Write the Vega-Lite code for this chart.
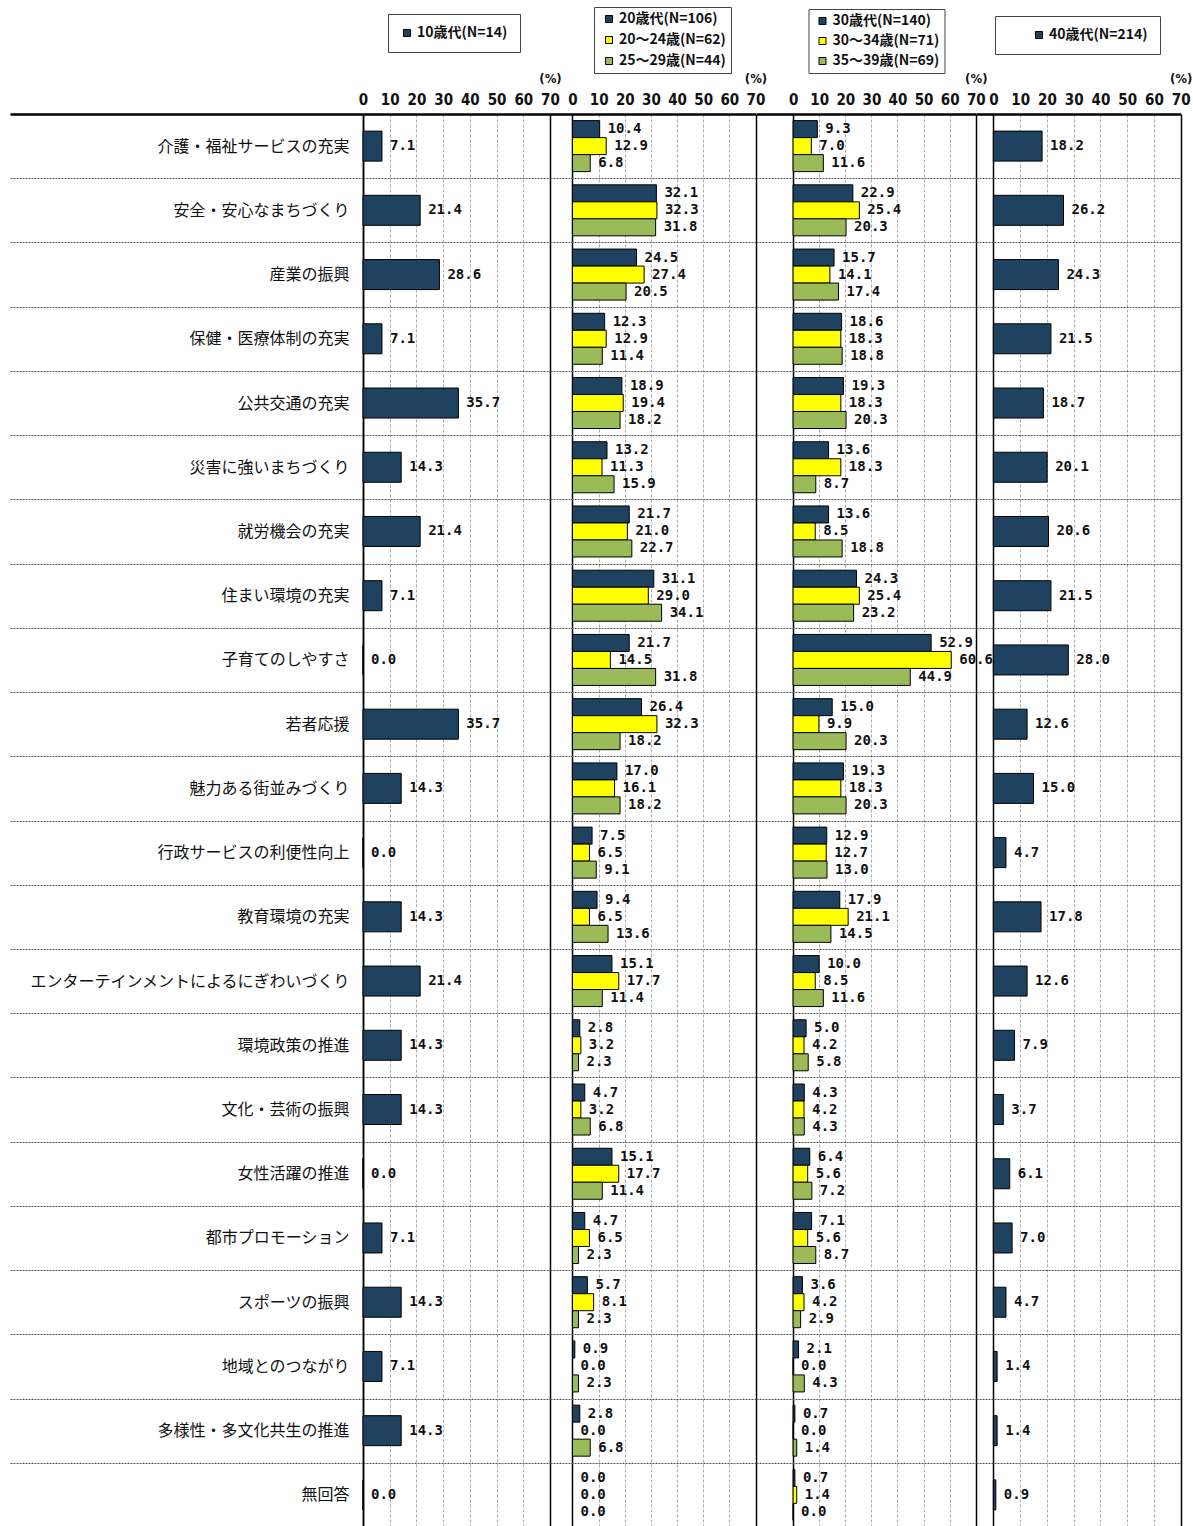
{
  "$schema": "https://vega.github.io/schema/vega-lite/v6.json",
  "padding": {"top": 6, "left": 8, "right": 5, "bottom": 0},
  "bounds": "flush",
  "spacing": 0,
  "config": {"view": {"stroke": null}},
  "datasets": {
    "p1": [
      {"item": "介護・福祉サービスの充実", "group": "10歳代(N=14)", "value": 7.1},
      {"item": "安全・安心なまちづくり", "group": "10歳代(N=14)", "value": 21.4},
      {"item": "産業の振興", "group": "10歳代(N=14)", "value": 28.6},
      {"item": "保健・医療体制の充実", "group": "10歳代(N=14)", "value": 7.1},
      {"item": "公共交通の充実", "group": "10歳代(N=14)", "value": 35.7},
      {"item": "災害に強いまちづくり", "group": "10歳代(N=14)", "value": 14.3},
      {"item": "就労機会の充実", "group": "10歳代(N=14)", "value": 21.4},
      {"item": "住まい環境の充実", "group": "10歳代(N=14)", "value": 7.1},
      {"item": "子育てのしやすさ", "group": "10歳代(N=14)", "value": 0.0},
      {"item": "若者応援", "group": "10歳代(N=14)", "value": 35.7},
      {"item": "魅力ある街並みづくり", "group": "10歳代(N=14)", "value": 14.3},
      {"item": "行政サービスの利便性向上", "group": "10歳代(N=14)", "value": 0.0},
      {"item": "教育環境の充実", "group": "10歳代(N=14)", "value": 14.3},
      {"item": "エンターテインメントによるにぎわいづくり", "group": "10歳代(N=14)", "value": 21.4},
      {"item": "環境政策の推進", "group": "10歳代(N=14)", "value": 14.3},
      {"item": "文化・芸術の振興", "group": "10歳代(N=14)", "value": 14.3},
      {"item": "女性活躍の推進", "group": "10歳代(N=14)", "value": 0.0},
      {"item": "都市プロモーション", "group": "10歳代(N=14)", "value": 7.1},
      {"item": "スポーツの振興", "group": "10歳代(N=14)", "value": 14.3},
      {"item": "地域とのつながり", "group": "10歳代(N=14)", "value": 7.1},
      {"item": "多様性・多文化共生の推進", "group": "10歳代(N=14)", "value": 14.3},
      {"item": "無回答", "group": "10歳代(N=14)", "value": 0.0}
    ],
    "p2": [
      {"item": "介護・福祉サービスの充実", "group": "20歳代(N=106)", "value": 10.4},
      {"item": "介護・福祉サービスの充実", "group": "20～24歳(N=62)", "value": 12.9},
      {"item": "介護・福祉サービスの充実", "group": "25～29歳(N=44)", "value": 6.8},
      {"item": "安全・安心なまちづくり", "group": "20歳代(N=106)", "value": 32.1},
      {"item": "安全・安心なまちづくり", "group": "20～24歳(N=62)", "value": 32.3},
      {"item": "安全・安心なまちづくり", "group": "25～29歳(N=44)", "value": 31.8},
      {"item": "産業の振興", "group": "20歳代(N=106)", "value": 24.5},
      {"item": "産業の振興", "group": "20～24歳(N=62)", "value": 27.4},
      {"item": "産業の振興", "group": "25～29歳(N=44)", "value": 20.5},
      {"item": "保健・医療体制の充実", "group": "20歳代(N=106)", "value": 12.3},
      {"item": "保健・医療体制の充実", "group": "20～24歳(N=62)", "value": 12.9},
      {"item": "保健・医療体制の充実", "group": "25～29歳(N=44)", "value": 11.4},
      {"item": "公共交通の充実", "group": "20歳代(N=106)", "value": 18.9},
      {"item": "公共交通の充実", "group": "20～24歳(N=62)", "value": 19.4},
      {"item": "公共交通の充実", "group": "25～29歳(N=44)", "value": 18.2},
      {"item": "災害に強いまちづくり", "group": "20歳代(N=106)", "value": 13.2},
      {"item": "災害に強いまちづくり", "group": "20～24歳(N=62)", "value": 11.3},
      {"item": "災害に強いまちづくり", "group": "25～29歳(N=44)", "value": 15.9},
      {"item": "就労機会の充実", "group": "20歳代(N=106)", "value": 21.7},
      {"item": "就労機会の充実", "group": "20～24歳(N=62)", "value": 21.0},
      {"item": "就労機会の充実", "group": "25～29歳(N=44)", "value": 22.7},
      {"item": "住まい環境の充実", "group": "20歳代(N=106)", "value": 31.1},
      {"item": "住まい環境の充実", "group": "20～24歳(N=62)", "value": 29.0},
      {"item": "住まい環境の充実", "group": "25～29歳(N=44)", "value": 34.1},
      {"item": "子育てのしやすさ", "group": "20歳代(N=106)", "value": 21.7},
      {"item": "子育てのしやすさ", "group": "20～24歳(N=62)", "value": 14.5},
      {"item": "子育てのしやすさ", "group": "25～29歳(N=44)", "value": 31.8},
      {"item": "若者応援", "group": "20歳代(N=106)", "value": 26.4},
      {"item": "若者応援", "group": "20～24歳(N=62)", "value": 32.3},
      {"item": "若者応援", "group": "25～29歳(N=44)", "value": 18.2},
      {"item": "魅力ある街並みづくり", "group": "20歳代(N=106)", "value": 17.0},
      {"item": "魅力ある街並みづくり", "group": "20～24歳(N=62)", "value": 16.1},
      {"item": "魅力ある街並みづくり", "group": "25～29歳(N=44)", "value": 18.2},
      {"item": "行政サービスの利便性向上", "group": "20歳代(N=106)", "value": 7.5},
      {"item": "行政サービスの利便性向上", "group": "20～24歳(N=62)", "value": 6.5},
      {"item": "行政サービスの利便性向上", "group": "25～29歳(N=44)", "value": 9.1},
      {"item": "教育環境の充実", "group": "20歳代(N=106)", "value": 9.4},
      {"item": "教育環境の充実", "group": "20～24歳(N=62)", "value": 6.5},
      {"item": "教育環境の充実", "group": "25～29歳(N=44)", "value": 13.6},
      {"item": "エンターテインメントによるにぎわいづくり", "group": "20歳代(N=106)", "value": 15.1},
      {"item": "エンターテインメントによるにぎわいづくり", "group": "20～24歳(N=62)", "value": 17.7},
      {"item": "エンターテインメントによるにぎわいづくり", "group": "25～29歳(N=44)", "value": 11.4},
      {"item": "環境政策の推進", "group": "20歳代(N=106)", "value": 2.8},
      {"item": "環境政策の推進", "group": "20～24歳(N=62)", "value": 3.2},
      {"item": "環境政策の推進", "group": "25～29歳(N=44)", "value": 2.3},
      {"item": "文化・芸術の振興", "group": "20歳代(N=106)", "value": 4.7},
      {"item": "文化・芸術の振興", "group": "20～24歳(N=62)", "value": 3.2},
      {"item": "文化・芸術の振興", "group": "25～29歳(N=44)", "value": 6.8},
      {"item": "女性活躍の推進", "group": "20歳代(N=106)", "value": 15.1},
      {"item": "女性活躍の推進", "group": "20～24歳(N=62)", "value": 17.7},
      {"item": "女性活躍の推進", "group": "25～29歳(N=44)", "value": 11.4},
      {"item": "都市プロモーション", "group": "20歳代(N=106)", "value": 4.7},
      {"item": "都市プロモーション", "group": "20～24歳(N=62)", "value": 6.5},
      {"item": "都市プロモーション", "group": "25～29歳(N=44)", "value": 2.3},
      {"item": "スポーツの振興", "group": "20歳代(N=106)", "value": 5.7},
      {"item": "スポーツの振興", "group": "20～24歳(N=62)", "value": 8.1},
      {"item": "スポーツの振興", "group": "25～29歳(N=44)", "value": 2.3},
      {"item": "地域とのつながり", "group": "20歳代(N=106)", "value": 0.9},
      {"item": "地域とのつながり", "group": "20～24歳(N=62)", "value": 0.0},
      {"item": "地域とのつながり", "group": "25～29歳(N=44)", "value": 2.3},
      {"item": "多様性・多文化共生の推進", "group": "20歳代(N=106)", "value": 2.8},
      {"item": "多様性・多文化共生の推進", "group": "20～24歳(N=62)", "value": 0.0},
      {"item": "多様性・多文化共生の推進", "group": "25～29歳(N=44)", "value": 6.8},
      {"item": "無回答", "group": "20歳代(N=106)", "value": 0.0},
      {"item": "無回答", "group": "20～24歳(N=62)", "value": 0.0},
      {"item": "無回答", "group": "25～29歳(N=44)", "value": 0.0}
    ],
    "p3": [
      {"item": "介護・福祉サービスの充実", "group": "30歳代(N=140)", "value": 9.3},
      {"item": "介護・福祉サービスの充実", "group": "30～34歳(N=71)", "value": 7.0},
      {"item": "介護・福祉サービスの充実", "group": "35～39歳(N=69)", "value": 11.6},
      {"item": "安全・安心なまちづくり", "group": "30歳代(N=140)", "value": 22.9},
      {"item": "安全・安心なまちづくり", "group": "30～34歳(N=71)", "value": 25.4},
      {"item": "安全・安心なまちづくり", "group": "35～39歳(N=69)", "value": 20.3},
      {"item": "産業の振興", "group": "30歳代(N=140)", "value": 15.7},
      {"item": "産業の振興", "group": "30～34歳(N=71)", "value": 14.1},
      {"item": "産業の振興", "group": "35～39歳(N=69)", "value": 17.4},
      {"item": "保健・医療体制の充実", "group": "30歳代(N=140)", "value": 18.6},
      {"item": "保健・医療体制の充実", "group": "30～34歳(N=71)", "value": 18.3},
      {"item": "保健・医療体制の充実", "group": "35～39歳(N=69)", "value": 18.8},
      {"item": "公共交通の充実", "group": "30歳代(N=140)", "value": 19.3},
      {"item": "公共交通の充実", "group": "30～34歳(N=71)", "value": 18.3},
      {"item": "公共交通の充実", "group": "35～39歳(N=69)", "value": 20.3},
      {"item": "災害に強いまちづくり", "group": "30歳代(N=140)", "value": 13.6},
      {"item": "災害に強いまちづくり", "group": "30～34歳(N=71)", "value": 18.3},
      {"item": "災害に強いまちづくり", "group": "35～39歳(N=69)", "value": 8.7},
      {"item": "就労機会の充実", "group": "30歳代(N=140)", "value": 13.6},
      {"item": "就労機会の充実", "group": "30～34歳(N=71)", "value": 8.5},
      {"item": "就労機会の充実", "group": "35～39歳(N=69)", "value": 18.8},
      {"item": "住まい環境の充実", "group": "30歳代(N=140)", "value": 24.3},
      {"item": "住まい環境の充実", "group": "30～34歳(N=71)", "value": 25.4},
      {"item": "住まい環境の充実", "group": "35～39歳(N=69)", "value": 23.2},
      {"item": "子育てのしやすさ", "group": "30歳代(N=140)", "value": 52.9},
      {"item": "子育てのしやすさ", "group": "30～34歳(N=71)", "value": 60.6},
      {"item": "子育てのしやすさ", "group": "35～39歳(N=69)", "value": 44.9},
      {"item": "若者応援", "group": "30歳代(N=140)", "value": 15.0},
      {"item": "若者応援", "group": "30～34歳(N=71)", "value": 9.9},
      {"item": "若者応援", "group": "35～39歳(N=69)", "value": 20.3},
      {"item": "魅力ある街並みづくり", "group": "30歳代(N=140)", "value": 19.3},
      {"item": "魅力ある街並みづくり", "group": "30～34歳(N=71)", "value": 18.3},
      {"item": "魅力ある街並みづくり", "group": "35～39歳(N=69)", "value": 20.3},
      {"item": "行政サービスの利便性向上", "group": "30歳代(N=140)", "value": 12.9},
      {"item": "行政サービスの利便性向上", "group": "30～34歳(N=71)", "value": 12.7},
      {"item": "行政サービスの利便性向上", "group": "35～39歳(N=69)", "value": 13.0},
      {"item": "教育環境の充実", "group": "30歳代(N=140)", "value": 17.9},
      {"item": "教育環境の充実", "group": "30～34歳(N=71)", "value": 21.1},
      {"item": "教育環境の充実", "group": "35～39歳(N=69)", "value": 14.5},
      {"item": "エンターテインメントによるにぎわいづくり", "group": "30歳代(N=140)", "value": 10.0},
      {"item": "エンターテインメントによるにぎわいづくり", "group": "30～34歳(N=71)", "value": 8.5},
      {"item": "エンターテインメントによるにぎわいづくり", "group": "35～39歳(N=69)", "value": 11.6},
      {"item": "環境政策の推進", "group": "30歳代(N=140)", "value": 5.0},
      {"item": "環境政策の推進", "group": "30～34歳(N=71)", "value": 4.2},
      {"item": "環境政策の推進", "group": "35～39歳(N=69)", "value": 5.8},
      {"item": "文化・芸術の振興", "group": "30歳代(N=140)", "value": 4.3},
      {"item": "文化・芸術の振興", "group": "30～34歳(N=71)", "value": 4.2},
      {"item": "文化・芸術の振興", "group": "35～39歳(N=69)", "value": 4.3},
      {"item": "女性活躍の推進", "group": "30歳代(N=140)", "value": 6.4},
      {"item": "女性活躍の推進", "group": "30～34歳(N=71)", "value": 5.6},
      {"item": "女性活躍の推進", "group": "35～39歳(N=69)", "value": 7.2},
      {"item": "都市プロモーション", "group": "30歳代(N=140)", "value": 7.1},
      {"item": "都市プロモーション", "group": "30～34歳(N=71)", "value": 5.6},
      {"item": "都市プロモーション", "group": "35～39歳(N=69)", "value": 8.7},
      {"item": "スポーツの振興", "group": "30歳代(N=140)", "value": 3.6},
      {"item": "スポーツの振興", "group": "30～34歳(N=71)", "value": 4.2},
      {"item": "スポーツの振興", "group": "35～39歳(N=69)", "value": 2.9},
      {"item": "地域とのつながり", "group": "30歳代(N=140)", "value": 2.1},
      {"item": "地域とのつながり", "group": "30～34歳(N=71)", "value": 0.0},
      {"item": "地域とのつながり", "group": "35～39歳(N=69)", "value": 4.3},
      {"item": "多様性・多文化共生の推進", "group": "30歳代(N=140)", "value": 0.7},
      {"item": "多様性・多文化共生の推進", "group": "30～34歳(N=71)", "value": 0.0},
      {"item": "多様性・多文化共生の推進", "group": "35～39歳(N=69)", "value": 1.4},
      {"item": "無回答", "group": "30歳代(N=140)", "value": 0.7},
      {"item": "無回答", "group": "30～34歳(N=71)", "value": 1.4},
      {"item": "無回答", "group": "35～39歳(N=69)", "value": 0.0}
    ],
    "p4": [
      {"item": "介護・福祉サービスの充実", "group": "40歳代(N=214)", "value": 18.2},
      {"item": "安全・安心なまちづくり", "group": "40歳代(N=214)", "value": 26.2},
      {"item": "産業の振興", "group": "40歳代(N=214)", "value": 24.3},
      {"item": "保健・医療体制の充実", "group": "40歳代(N=214)", "value": 21.5},
      {"item": "公共交通の充実", "group": "40歳代(N=214)", "value": 18.7},
      {"item": "災害に強いまちづくり", "group": "40歳代(N=214)", "value": 20.1},
      {"item": "就労機会の充実", "group": "40歳代(N=214)", "value": 20.6},
      {"item": "住まい環境の充実", "group": "40歳代(N=214)", "value": 21.5},
      {"item": "子育てのしやすさ", "group": "40歳代(N=214)", "value": 28.0},
      {"item": "若者応援", "group": "40歳代(N=214)", "value": 12.6},
      {"item": "魅力ある街並みづくり", "group": "40歳代(N=214)", "value": 15.0},
      {"item": "行政サービスの利便性向上", "group": "40歳代(N=214)", "value": 4.7},
      {"item": "教育環境の充実", "group": "40歳代(N=214)", "value": 17.8},
      {"item": "エンターテインメントによるにぎわいづくり", "group": "40歳代(N=214)", "value": 12.6},
      {"item": "環境政策の推進", "group": "40歳代(N=214)", "value": 7.9},
      {"item": "文化・芸術の振興", "group": "40歳代(N=214)", "value": 3.7},
      {"item": "女性活躍の推進", "group": "40歳代(N=214)", "value": 6.1},
      {"item": "都市プロモーション", "group": "40歳代(N=214)", "value": 7.0},
      {"item": "スポーツの振興", "group": "40歳代(N=214)", "value": 4.7},
      {"item": "地域とのつながり", "group": "40歳代(N=214)", "value": 1.4},
      {"item": "多様性・多文化共生の推進", "group": "40歳代(N=214)", "value": 1.4},
      {"item": "無回答", "group": "40歳代(N=214)", "value": 0.9}
    ]
  },
  "hconcat": [
    {
      "width": 187,
      "height": 1413,
      "data": {"name": "p1"},
      "encoding": {
        "y": {
          "field": "item", "type": "nominal", "sort": null,
          "scale": {"padding": 0},
          "axis": {
            "title": null, "tickBand": "extent", "tickSize": 353,
            "tickColor": {"condition": {"test": "datum.value == null || datum.index < 0", "value": "#000"}, "value": "#555"},
            "tickDash": {"condition": {"test": "datum.value == null || datum.index < 0", "value": []}, "value": [2, 1]},
            "tickWidth": {"condition": {"test": "datum.value == null || datum.index < 0", "value": 2.5}, "value": 1},
            "labelPadding": -339, "labelLimit": 400,
            "labelFont": "Noto Sans CJK JP", "labelFontSize": 16, "labelColor": "#111",
            "domain": true, "domainColor": "#000", "domainWidth": 1.5,
            "grid": true, "gridColor": "#555", "gridDash": [2, 1]
          }
        },
        "x": {
          "field": "value", "type": "quantitative",
          "scale": {"domain": [0, 70], "nice": false},
          "axis": {
            "orient": "top", "values": [0, 10, 20, 30, 40, 50, 60, 70],
            "title": "(%)", "titleAnchor": "end", "titleAlign": "center", "titleAngle": 0, "titlePadding": 7,
            "titleFont": "DejaVu Sans Condensed", "titleFontSize": 13, "titleFontWeight": "bold", "titleColor": "#111",
            "labelFont": "Liberation Sans Narrow, DejaVu Sans Condensed, sans-serif", "labelFontSize": 15, "labelFontWeight": "bold", "labelColor": "#111",
            "labelPadding": 7, "labelFlush": false, "labelOverlap": false,
            "ticks": false, "domain": true, "domainColor": "#000", "domainWidth": 2.5,
            "grid": true,
            "gridColor": {"condition": {"test": "datum.value === 0 || datum.value === 70", "value": "#000"}, "value": "#aaa"},
            "gridDash": {"condition": {"test": "datum.value === 0 || datum.value === 70", "value": []}, "value": [3, 2]},
            "gridWidth": {"condition": {"test": "datum.value === 0 || datum.value === 70", "value": 1.5}, "value": 1}
          }
        }
      },
      "layer": [
        {
          "mark": {"type": "bar", "size": 30, "stroke": "#000", "strokeWidth": 1},
          "encoding": {
            "color": {
              "field": "group", "type": "nominal",
              "scale": {"domain": ["10歳代(N=14)"], "range": ["#1f4260"]},
              "legend": {
                "orient": "none", "legendX": 25, "legendY": -100, "title": null,
                "fillColor": "#fff", "strokeColor": "#444", "padding": 12,
                "symbolType": "square", "symbolSize": 49, "symbolStrokeColor": "#000", "symbolStrokeWidth": 1, "symbolOffset": 0,
                "labelFont": "Noto Sans CJK JP", "labelFontSize": 14, "labelFontWeight": "bold", "labelOffset": 3, "labelColor": "#111"
              }
            }
          }
        },
        {
          "mark": {"type": "text", "align": "left", "baseline": "middle", "dx": 8, "font": "DejaVu Sans Mono", "fontSize": 14, "fontWeight": "bold", "color": "#111"},
          "encoding": {"text": {"field": "value", "type": "quantitative", "format": ".1f"}}
        }
      ]
    },
    {
      "width": 205.5,
      "height": 1413,
      "data": {"name": "p2"},
      "encoding": {
        "y": {
          "field": "item", "type": "nominal", "sort": null,
          "scale": {"padding": 0},
          "axis": {"title": null, "labels": false, "ticks": false, "domain": false, "grid": true, "tickBand": "extent", "gridColor": "#555", "gridDash": [2, 1]}
        },
        "x": {
          "field": "value", "type": "quantitative",
          "scale": {"domain": [-8.6, 70], "nice": false, "zero": false},
          "axis": {
            "orient": "top", "values": [0, 10, 20, 30, 40, 50, 60, 70],
            "title": "(%)", "titleAnchor": "end", "titleAlign": "center", "titleAngle": 0, "titlePadding": 7,
            "titleFont": "DejaVu Sans Condensed", "titleFontSize": 13, "titleFontWeight": "bold", "titleColor": "#111",
            "labelFont": "Liberation Sans Narrow, DejaVu Sans Condensed, sans-serif", "labelFontSize": 15, "labelFontWeight": "bold", "labelColor": "#111",
            "labelPadding": 7, "labelFlush": false, "labelOverlap": false,
            "ticks": false, "domain": true, "domainColor": "#000", "domainWidth": 2.5,
            "grid": true,
            "gridColor": {"condition": {"test": "datum.value === 0 || datum.value === 70", "value": "#000"}, "value": "#aaa"},
            "gridDash": {"condition": {"test": "datum.value === 0 || datum.value === 70", "value": []}, "value": [3, 2]},
            "gridWidth": {"condition": {"test": "datum.value === 0 || datum.value === 70", "value": 1.5}, "value": 1}
          }
        },
        "color": {
          "field": "group", "type": "nominal",
          "scale": {"domain": ["20歳代(N=106)", "20～24歳(N=62)", "25～29歳(N=44)"], "range": ["#1f4260", "#ffff00", "#9bbb59"]},
          "legend": {
            "orient": "none", "legendX": 44, "legendY": -107, "title": null,
            "fillColor": "#fff", "strokeColor": "#444", "padding": 5, "rowPadding": 7,
            "symbolType": "square", "symbolSize": 49, "symbolStrokeColor": "#000", "symbolStrokeWidth": 1, "symbolOffset": 3,
            "labelFont": "Noto Sans CJK JP", "labelFontSize": 14, "labelFontWeight": "bold", "labelOffset": 3, "labelColor": "#111"
          }
        }
      },
      "layer": [
        {
          "transform": [{"filter": "datum.group === '20歳代(N=106)'"}],
          "mark": {"type": "bar", "size": 17, "yOffset": -17, "stroke": "#000", "strokeWidth": 1}
        },
        {
          "transform": [{"filter": "datum.group === '20～24歳(N=62)'"}],
          "mark": {"type": "bar", "size": 17, "yOffset": 0, "stroke": "#000", "strokeWidth": 1}
        },
        {
          "transform": [{"filter": "datum.group === '25～29歳(N=44)'"}],
          "mark": {"type": "bar", "size": 17, "yOffset": 17, "stroke": "#000", "strokeWidth": 1}
        },
        {
          "transform": [{"filter": "datum.group === '20歳代(N=106)'"}],
          "mark": {"type": "text", "align": "left", "baseline": "middle", "dx": 8, "yOffset": -17, "font": "DejaVu Sans Mono", "fontSize": 14, "fontWeight": "bold", "color": "#111"},
          "encoding": {"text": {"field": "value", "type": "quantitative", "format": ".1f"}, "color": {"value": "#111"}}
        },
        {
          "transform": [{"filter": "datum.group === '20～24歳(N=62)'"}],
          "mark": {"type": "text", "align": "left", "baseline": "middle", "dx": 8, "yOffset": 0, "font": "DejaVu Sans Mono", "fontSize": 14, "fontWeight": "bold", "color": "#111"},
          "encoding": {"text": {"field": "value", "type": "quantitative", "format": ".1f"}, "color": {"value": "#111"}}
        },
        {
          "transform": [{"filter": "datum.group === '25～29歳(N=44)'"}],
          "mark": {"type": "text", "align": "left", "baseline": "middle", "dx": 8, "yOffset": 17, "font": "DejaVu Sans Mono", "fontSize": 14, "fontWeight": "bold", "color": "#111"},
          "encoding": {"text": {"field": "value", "type": "quantitative", "format": ".1f"}, "color": {"value": "#111"}}
        }
      ]
    },
    {
      "width": 219.8,
      "height": 1413,
      "data": {"name": "p3"},
      "encoding": {
        "y": {
          "field": "item", "type": "nominal", "sort": null,
          "scale": {"padding": 0},
          "axis": {"title": null, "labels": false, "ticks": false, "domain": false, "grid": true, "tickBand": "extent", "gridColor": "#555", "gridDash": [2, 1]}
        },
        "x": {
          "field": "value", "type": "quantitative",
          "scale": {"domain": [-14.2, 70], "nice": false, "zero": false},
          "axis": {
            "orient": "top", "values": [0, 10, 20, 30, 40, 50, 60, 70],
            "title": "(%)", "titleAnchor": "end", "titleAlign": "center", "titleAngle": 0, "titlePadding": 7,
            "titleFont": "DejaVu Sans Condensed", "titleFontSize": 13, "titleFontWeight": "bold", "titleColor": "#111",
            "labelFont": "Liberation Sans Narrow, DejaVu Sans Condensed, sans-serif", "labelFontSize": 15, "labelFontWeight": "bold", "labelColor": "#111",
            "labelPadding": 7, "labelFlush": false, "labelOverlap": false,
            "ticks": false, "domain": true, "domainColor": "#000", "domainWidth": 2.5,
            "grid": true,
            "gridColor": {"condition": {"test": "datum.value === 0 || datum.value === 70", "value": "#000"}, "value": "#aaa"},
            "gridDash": {"condition": {"test": "datum.value === 0 || datum.value === 70", "value": []}, "value": [3, 2]},
            "gridWidth": {"condition": {"test": "datum.value === 0 || datum.value === 70", "value": 1.5}, "value": 1}
          }
        },
        "color": {
          "field": "group", "type": "nominal",
          "scale": {"domain": ["30歳代(N=140)", "30～34歳(N=71)", "35～39歳(N=69)"], "range": ["#1f4260", "#ffff00", "#9bbb59"]},
          "legend": {
            "orient": "none", "legendX": 52.5, "legendY": -105, "title": null,
            "fillColor": "#fff", "strokeColor": "#444", "padding": 5, "rowPadding": 6,
            "symbolType": "square", "symbolSize": 49, "symbolStrokeColor": "#000", "symbolStrokeWidth": 1, "symbolOffset": 2,
            "labelFont": "Noto Sans CJK JP", "labelFontSize": 14, "labelFontWeight": "bold", "labelOffset": 3, "labelColor": "#111"
          }
        }
      },
      "layer": [
        {
          "transform": [{"filter": "datum.group === '30歳代(N=140)'"}],
          "mark": {"type": "bar", "size": 17, "yOffset": -17, "stroke": "#000", "strokeWidth": 1}
        },
        {
          "transform": [{"filter": "datum.group === '30～34歳(N=71)'"}],
          "mark": {"type": "bar", "size": 17, "yOffset": 0, "stroke": "#000", "strokeWidth": 1}
        },
        {
          "transform": [{"filter": "datum.group === '35～39歳(N=69)'"}],
          "mark": {"type": "bar", "size": 17, "yOffset": 17, "stroke": "#000", "strokeWidth": 1}
        },
        {
          "transform": [{"filter": "datum.group === '30歳代(N=140)'"}],
          "mark": {"type": "text", "align": "left", "baseline": "middle", "dx": 8, "yOffset": -17, "font": "DejaVu Sans Mono", "fontSize": 14, "fontWeight": "bold", "color": "#111"},
          "encoding": {"text": {"field": "value", "type": "quantitative", "format": ".1f"}, "color": {"value": "#111"}}
        },
        {
          "transform": [{"filter": "datum.group === '30～34歳(N=71)'"}],
          "mark": {"type": "text", "align": "left", "baseline": "middle", "dx": 8, "yOffset": 0, "font": "DejaVu Sans Mono", "fontSize": 14, "fontWeight": "bold", "color": "#111"},
          "encoding": {"text": {"field": "value", "type": "quantitative", "format": ".1f"}, "color": {"value": "#111"}}
        },
        {
          "transform": [{"filter": "datum.group === '35～39歳(N=69)'"}],
          "mark": {"type": "text", "align": "left", "baseline": "middle", "dx": 8, "yOffset": 17, "font": "DejaVu Sans Mono", "fontSize": 14, "fontWeight": "bold", "color": "#111"},
          "encoding": {"text": {"field": "value", "type": "quantitative", "format": ".1f"}, "color": {"value": "#111"}}
        }
      ]
    },
    {
      "width": 204.7,
      "height": 1413,
      "data": {"name": "p4"},
      "encoding": {
        "y": {
          "field": "item", "type": "nominal", "sort": null,
          "scale": {"padding": 0},
          "axis": {"title": null, "labels": false, "ticks": false, "domain": false, "grid": true, "tickBand": "extent", "gridColor": "#555", "gridDash": [2, 1]}
        },
        "x": {
          "field": "value", "type": "quantitative",
          "scale": {"domain": [-6.5, 70], "nice": false, "zero": false},
          "axis": {
            "orient": "top", "values": [0, 10, 20, 30, 40, 50, 60, 70],
            "title": "(%)", "titleAnchor": "end", "titleAlign": "center", "titleAngle": 0, "titlePadding": 7,
            "titleFont": "DejaVu Sans Condensed", "titleFontSize": 13, "titleFontWeight": "bold", "titleColor": "#111",
            "labelFont": "Liberation Sans Narrow, DejaVu Sans Condensed, sans-serif", "labelFontSize": 15, "labelFontWeight": "bold", "labelColor": "#111",
            "labelPadding": 7, "labelFlush": false, "labelOverlap": false,
            "ticks": false, "domain": true, "domainColor": "#000", "domainWidth": 2.5,
            "grid": true,
            "gridColor": {"condition": {"test": "datum.value === 0 || datum.value === 70", "value": "#000"}, "value": "#aaa"},
            "gridDash": {"condition": {"test": "datum.value === 0 || datum.value === 70", "value": []}, "value": [3, 2]},
            "gridWidth": {"condition": {"test": "datum.value === 0 || datum.value === 70", "value": 1.5}, "value": 1}
          }
        }
      },
      "layer": [
        {
          "mark": {"type": "bar", "size": 30, "stroke": "#000", "strokeWidth": 1},
          "encoding": {
            "color": {
              "field": "group", "type": "nominal",
              "scale": {"domain": ["40歳代(N=214)"], "range": ["#1f4260"]},
              "legend": {
                "orient": "none", "legendX": 19, "legendY": -98, "title": null,
                "fillColor": "#fff", "strokeColor": "#444", "padding": 12,
                "symbolType": "square", "symbolSize": 49, "symbolStrokeColor": "#000", "symbolStrokeWidth": 1, "symbolOffset": 25,
                "labelFont": "Noto Sans CJK JP", "labelFontSize": 14, "labelFontWeight": "bold", "labelOffset": 3, "labelColor": "#111"
              }
            }
          }
        },
        {
          "mark": {"type": "text", "align": "left", "baseline": "middle", "dx": 8, "font": "DejaVu Sans Mono", "fontSize": 14, "fontWeight": "bold", "color": "#111"},
          "encoding": {"text": {"field": "value", "type": "quantitative", "format": ".1f"}}
        }
      ]
    }
  ],
  "resolve": {"scale": {"color": "independent"}, "legend": {"color": "independent"}}
}
